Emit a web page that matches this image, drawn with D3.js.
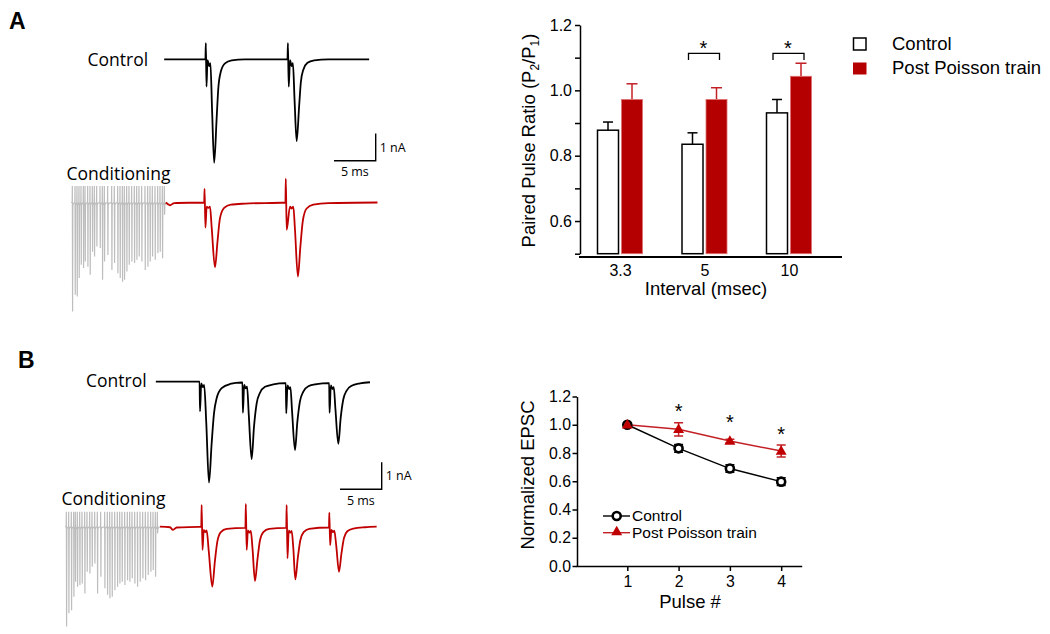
<!DOCTYPE html>
<html><head><meta charset="utf-8">
<script src="https://cdn.jsdelivr.net/npm/d3@7"></script>
<style>body{margin:0;background:#fff}svg{display:block}</style>
</head><body>
<svg id="fig" width="1050" height="634"></svg>
<script>
// ---------------- DATA ----------------
// Panel A bar chart: paired pulse ratio
const intervals = ["3.3", "5", "10"];
const pprControl = [0.878, 0.835, 0.931];
const pprControlErr = [0.025, 0.035, 0.041];
const pprPost = [0.972, 0.972, 1.043];
const pprPostErr = [0.048, 0.036, 0.040];
const pprTicks = [0.5, 0.6, 0.7, 0.8, 0.9, 1.0, 1.1, 1.2];
const pprTickLabels = ["", "0.6", "", "0.8", "", "1.0", "", "1.2"];
const pprSignificant = ["5", "10"];
const seriesNames = ["Control", "Post Poisson train"];

// Panel B line chart: normalized EPSC
const pulses = [1, 2, 3, 4];
const epscControl = [1.0, 0.833, 0.69, 0.597];
const epscControlErr = [0, 0.028, 0.026, 0.027];
const epscPost = [1.0, 0.968, 0.885, 0.814];
const epscPostErr = [0, 0.047, 0.012, 0.042];
const epscTicks = [0, 0.2, 0.4, 0.6, 0.8, 1.0, 1.2];
const epscSignificant = [2, 3, 4];

// Example traces: [time (ms), current (nA)]
const traceAControl = [[11.3,0],[16.25,0],[16.3,0.59],[16.38,-1.0],[16.5,-0.03],[16.7,-0.25],[16.85,-0.14],[17.05,-1.86],[17.3,-3.79],[17.6,-2.15],[17.8,-1.05],[18.1,-0.45],[18.6,-0.15],[19.4,-0.04],[21,0],
  [26.1,0],[26.15,0.59],[26.25,-1.0],[26.4,-0.03],[26.6,-0.25],[26.75,-0.14],[26.95,-1.5],[27.2,-3.0],[27.5,-1.7],[27.7,-0.85],[28.0,-0.38],[28.5,-0.13],[29.3,-0.04],[31,0],[35.9,0]];
const traceAPost = [[11.5,0],[12.0,-0.1],[12.5,-0.02],[16.1,0],[16.15,0.5],[16.25,-0.92],[16.4,-0.15],[16.6,-0.2],[16.8,-0.15],[17.0,-0.9],[17.4,-2.38],[17.7,-1.43],[18.0,-0.57],[18.5,-0.2],[19.3,-0.08],[21,-0.04],
  [25.85,0],[25.9,0.87],[26.0,-1.0],[26.4,-0.15],[26.6,-0.22],[26.8,-0.15],[27.0,-1.0],[27.35,-2.71],[27.65,-1.6],[27.95,-0.65],[28.4,-0.22],[29.2,-0.08],[31,-0.02],[36.9,0]];
// conditioning train spikes: [time (ms), peak current (nA)]
const spikesA = [[0.28,-3.99],[0.6,-3.38],[0.84,-3.44],[1.08,-2.77],[1.32,-2.28],[1.6,-2.4],[1.8,-2.16],[2.12,-2.35],[2.4,-2.65],[2.68,-1.8],[2.92,-1.98],[3.2,-1.61],[3.6,-1.67],[3.88,-2.83],[4.12,-2.16],[4.52,-1.92],[5.0,-2.47],[5.32,-2.22],[5.72,-2.59],[6.0,-2.77],[6.28,-2.9],[6.52,-2.83],[6.8,-2.53],[7.08,-2.28],[7.4,-2.16],[7.72,-2.22],[8.0,-2.1],[8.28,-1.98],[8.6,-2.16],[9.0,-2.47],[9.32,-2.35],[9.6,-2.16],[9.88,-1.98],[10.2,-2.1],[10.52,-1.86],[10.8,-1.8],[11.08,-2.04],[11.32,-0.45]];
const spikeUpA = 0.6;

const traceBControl = [[10.9,0],[16.15,0],[16.2,-1.1],[16.35,-0.06],[16.55,-0.2],[16.7,-0.12],[16.95,-1.5],[17.28,-3.74],[17.6,-2.28],[17.88,-1.17],[18.2,-0.61],[18.8,-0.24],[19.8,-0.085],[21.2,-0.03],
  [21.3,-0.03],[21.35,-1.15],[21.5,-0.12],[21.7,-0.25],[21.85,-0.18],[22.05,-1.2],[22.4,-2.87],[22.68,-1.67],[23.0,-0.8],[23.4,-0.41],[24.0,-0.19],[25.0,-0.1],[26.4,-0.05],
  [26.5,-0.05],[26.55,-1.17],[26.7,-0.14],[26.9,-0.27],[27.05,-0.2],[27.25,-1.1],[27.6,-2.53],[27.88,-1.5],[28.2,-0.72],[28.6,-0.37],[29.2,-0.17],[30.2,-0.09],[31.6,-0.05],
  [31.7,-0.05],[31.75,-1.15],[31.9,-0.14],[32.1,-0.27],[32.25,-0.2],[32.45,-1.0],[32.8,-2.3],[33.08,-1.35],[33.4,-0.65],[33.8,-0.33],[34.4,-0.15],[35.4,-0.06],[36.6,-0.02]];
const traceBPost = [[11.4,0],[12.6,-0.02],[12.96,-0.12],[13.4,-0.03],[16.35,0],[16.4,0.8],[16.5,-0.86],[16.65,-0.12],[16.85,-0.2],[17.0,-0.14],[17.25,-0.9],[17.68,-2.22],[17.98,-1.3],[18.28,-0.55],[18.7,-0.2],[19.4,-0.08],[21.6,-0.04],
  [21.65,-0.04],[21.7,0.84],[21.8,-0.86],[21.95,-0.14],[22.15,-0.22],[22.3,-0.16],[22.5,-0.8],[22.8,-2.01],[23.1,-1.2],[23.4,-0.5],[23.8,-0.2],[24.5,-0.08],[26.5,-0.04],
  [26.55,-0.04],[26.6,0.8],[26.7,-1.17],[26.85,-0.14],[27.05,-0.22],[27.2,-0.16],[27.4,-0.8],[27.64,-1.95],[27.94,-1.15],[28.24,-0.5],[28.64,-0.2],[29.3,-0.08],[31.65,-0.03],
  [31.68,-0.03],[31.72,0.52],[31.82,-0.68],[31.97,-0.12],[32.17,-0.2],[32.32,-0.15],[32.55,-0.7],[32.88,-1.67],[33.18,-0.98],[33.48,-0.42],[33.88,-0.17],[34.6,-0.07],[36,-0.02],[37.4,0]];
const spikesB = [[0.16,-3.7],[0.44,-3.21],[0.76,-3.09],[1.04,-2.59],[1.24,-2.04],[1.48,-2.22],[1.76,-2.16],[2.04,-2.1],[2.36,-2.47],[2.64,-1.67],[2.96,-1.73],[3.24,-1.48],[3.56,-1.36],[3.88,-2.47],[4.28,-1.85],[4.76,-2.28],[5.08,-2.52],[5.36,-2.65],[5.64,-2.59],[5.96,-2.35],[6.28,-2.22],[6.56,-2.1],[6.84,-2.04],[7.16,-2.16],[7.48,-1.98],[7.76,-2.04],[8.04,-1.91],[8.36,-2.1],[8.68,-2.22],[9.0,-2.04],[9.32,-1.91],[9.64,-1.98],[9.96,-1.79],[10.28,-1.67],[10.56,-1.6],[10.84,-1.85],[11.08,-0.25]];
const spikeUpB = 0.55;
const scaleBarTime = 5;   // ms
const scaleBarCurrent = 1; // nA

// ---------------- DRAWING ----------------
const svg = d3.select("#fig");
const SANS = "'Liberation Sans', Arial, Helvetica, sans-serif";
const HUM = "'Open Sans', 'Noto Sans', sans-serif";
const RED = "#b40000", RED_LINE = "#c32026", GRAY = "#bdbdbd";

// panel letters
svg.append("text").attr("x", 9).attr("y", 28.5).text("A")
  .attr("font-family", SANS).attr("font-weight", "bold").attr("font-size", 23);
svg.append("text").attr("x", 18).attr("y", 367.5).text("B")
  .attr("font-family", SANS).attr("font-weight", "bold").attr("font-size", 23);

// ---- traces ----
function drawTraces(cfg) {
  const x = d3.scaleLinear().domain([0, 40]).range([cfg.x0, cfg.x0 + 40 * 8.333]);
  const yC = d3.scaleLinear().domain([0, 1]).range([cfg.baseControl, cfg.baseControl - cfg.pxPerNA]);
  const yP = d3.scaleLinear().domain([0, 1]).range([cfg.basePost, cfg.basePost - cfg.pxPerNA]);
  const g = svg.append("g");
  // conditioning spikes
  const pts = [[cfg.spikes[0][0] - 0.15, 0]];
  cfg.spikes.forEach(([t, d]) => { pts.push([t - 0.02, 0], [t, cfg.spikeUp], [t + 0.03, d], [t + 0.06, -0.1], [t + 0.14, -0.03]); });
  pts.push([cfg.post[0][0], 0]);
  g.append("path").attr("d", d3.line().x(d => x(d[0])).y(d => yP(d[1]))(pts))
    .attr("fill", "none").attr("stroke", GRAY).attr("stroke-width", 1.2);
  const lineC = d3.line().x(d => x(d[0])).y(d => yC(d[1])).curve(d3.curveMonotoneX);
  const lineP = d3.line().x(d => x(d[0])).y(d => yP(d[1])).curve(d3.curveMonotoneX);
  g.append("path").attr("d", lineC(cfg.control)).attr("fill", "none").attr("stroke", "#000").attr("stroke-width", 1.8);
  g.append("path").attr("d", lineP(cfg.post)).attr("fill", "none").attr("stroke", "#c00000").attr("stroke-width", 1.8);
  // labels
  g.append("text").attr("x", cfg.ctlLabel[0]).attr("y", cfg.ctlLabel[1]).text("Control")
    .attr("font-family", HUM).attr("font-size", 17.5);
  g.append("text").attr("x", cfg.condLabel[0]).attr("y", cfg.condLabel[1]).text("Conditioning")
    .attr("font-family", HUM).attr("font-size", 17.5);
  // scale bar
  const [bx, by] = cfg.bar;
  const w = x(scaleBarTime) - x(0), h = yC(0) - yC(scaleBarCurrent);
  g.append("path").attr("d", `M${bx - w},${by}H${bx}V${by - h}`)
    .attr("fill", "none").attr("stroke", "#000").attr("stroke-width", 1.4);
  g.append("text").attr("x", bx + 4).attr("y", by - h / 2 + 4.5).text("1 nA")
    .attr("font-family", HUM).attr("font-size", 12.5);
  g.append("text").attr("x", bx - w / 2).attr("y", by + 15.5).attr("text-anchor", "middle").text("5 ms")
    .attr("font-family", HUM).attr("font-size", 12.5);
}
drawTraces({ x0: 70, baseControl: 59.3, basePost: 202.5, pxPerNA: 27.3, control: traceAControl, post: traceAPost,
  spikes: spikesA, spikeUp: spikeUpA, ctlLabel: [87.5, 65.5], condLabel: [66.5, 180], bar: [375.7, 160.7] });
drawTraces({ x0: 65, baseControl: 381.7, basePost: 526.7, pxPerNA: 27, control: traceBControl, post: traceBPost,
  spikes: spikesB, spikeUp: spikeUpB, ctlLabel: [86, 386.5], condLabel: [61.5, 505], bar: [381.7, 489.3] });

// ---- Panel A bar chart ----
(function () {
  const y = d3.scaleLinear().domain([0.5, 1.2]).range([253.7, 25]);
  const x = d3.scalePoint().domain(intervals).range([620, 789]);
  const g = svg.append("g");
  const yAxis = d3.axisLeft(y).tickValues(pprTicks).tickFormat((d, i) => pprTickLabels[i])
    .tickSize(5).tickSizeOuter(0).tickPadding(3);
  const ya = g.append("g").attr("transform", "translate(580,0)").call(yAxis);
  ya.selectAll("path,line").attr("stroke", "#000").attr("stroke-width", 1.5);
  ya.selectAll("text").attr("font-family", SANS).attr("font-size", 16).attr("fill", "#000");
  const xAxis = d3.axisBottom(x).tickSize(0).tickPadding(8);
  const xa = g.append("g").attr("transform", "translate(0,257)").call(xAxis);
  xa.select(".domain").remove();
  xa.selectAll("text").attr("font-family", SANS).attr("font-size", 16).attr("fill", "#000");
  g.append("line").attr("x1", 579).attr("x2", 842).attr("y1", 257).attr("y2", 257)
    .attr("stroke", "#000").attr("stroke-width", 2);
  const bw = 21;
  intervals.forEach((k, i) => {
    const c = x(k);
    // control
    g.append("line").attr("x1", c - 12).attr("x2", c - 12).attr("y1", y(pprControl[i])).attr("y2", y(pprControl[i] + pprControlErr[i]))
      .attr("stroke", "#000").attr("stroke-width", 1.5);
    g.append("line").attr("x1", c - 17).attr("x2", c - 7).attr("y1", y(pprControl[i] + pprControlErr[i])).attr("y2", y(pprControl[i] + pprControlErr[i]))
      .attr("stroke", "#000").attr("stroke-width", 1.5);
    g.append("rect").attr("x", c - 1.5 - bw).attr("width", bw).attr("y", y(pprControl[i])).attr("height", y(0.5) - y(pprControl[i]))
      .attr("fill", "#fff").attr("stroke", "#000").attr("stroke-width", 1.5);
    // post
    g.append("line").attr("x1", c + 12).attr("x2", c + 12).attr("y1", y(pprPost[i])).attr("y2", y(pprPost[i] + pprPostErr[i]))
      .attr("stroke", RED_LINE).attr("stroke-width", 1.5);
    g.append("line").attr("x1", c + 6.5).attr("x2", c + 17.5).attr("y1", y(pprPost[i] + pprPostErr[i])).attr("y2", y(pprPost[i] + pprPostErr[i]))
      .attr("stroke", RED_LINE).attr("stroke-width", 1.5);
    g.append("rect").attr("x", c + 1.5).attr("width", bw).attr("y", y(pprPost[i])).attr("height", y(0.5) - y(pprPost[i]))
      .attr("fill", RED).attr("stroke", "#e07070").attr("stroke-width", 0.8);
  });
  // significance brackets
  pprSignificant.forEach(k => {
    const c = x(k);
    g.append("path").attr("d", `M${c - 16},${y(1.093)}V${y(1.113)}H${c + 15}V${y(1.093)}`)
      .attr("fill", "none").attr("stroke", "#000").attr("stroke-width", 1.3);
    g.append("text").attr("x", c - 1).attr("y", y(1.113) + 2).attr("text-anchor", "middle").text("*")
      .attr("font-family", SANS).attr("font-size", 20);
  });
  // axis titles
  const yt = g.append("text").attr("transform", "translate(535.3,140.5) rotate(-90)").attr("text-anchor", "middle")
    .attr("font-family", SANS).attr("font-size", 18.5);
  yt.append("tspan").text("Paired Pulse Ratio (P");
  yt.append("tspan").attr("dy", 4).attr("font-size", 12).text("2");
  yt.append("tspan").attr("dy", -4).text("/P");
  yt.append("tspan").attr("dy", 4).attr("font-size", 12).text("1");
  yt.append("tspan").attr("dy", -4).text(")");
  g.append("text").attr("x", 706).attr("y", 294.5).attr("text-anchor", "middle").text("Interval (msec)")
    .attr("font-family", SANS).attr("font-size", 18.5);
  // legend
  const lg = g.append("g");
  lg.append("rect").attr("x", 853.5).attr("y", 38).attr("width", 12.5).attr("height", 12)
    .attr("fill", "#fff").attr("stroke", "#000").attr("stroke-width", 1.5);
  lg.append("rect").attr("x", 853).attr("y", 62.5).attr("width", 13.5).attr("height", 12).attr("fill", RED);
  lg.append("text").attr("x", 892).attr("y", 49.5).text(seriesNames[0]).attr("font-family", SANS).attr("font-size", 18.5);
  lg.append("text").attr("x", 892).attr("y", 73.5).text(seriesNames[1]).attr("font-family", SANS).attr("font-size", 18.5);
})();

// ---- Panel B line chart ----
(function () {
  const x = d3.scaleLinear().domain([0, 4.4]).range([576, 801.7]);
  const y = d3.scaleLinear().domain([0, 1.2]).range([566, 396.5]);
  const g = svg.append("g");
  const ya = g.append("g").attr("transform", "translate(577,0)")
    .call(d3.axisLeft(y).tickValues(epscTicks).tickFormat(d3.format(".1f")).tickSize(4.5).tickSizeOuter(0).tickPadding(1.5));
  const xa = g.append("g").attr("transform", "translate(0,566)")
    .call(d3.axisBottom(x).tickValues(pulses).tickFormat(d3.format("d")).tickSize(5).tickSizeOuter(0).tickPadding(5));
  [ya, xa].forEach(a => {
    a.selectAll("path,line").attr("stroke", "#000").attr("stroke-width", 1.5);
    a.selectAll("text").attr("font-family", SANS).attr("font-size", 15.8).attr("fill", "#000");
  });
  const line = d3.line().x((d, i) => x(pulses[i])).y(d => y(d));
  g.append("path").attr("d", line(epscControl)).attr("fill", "none").attr("stroke", "#000").attr("stroke-width", 1.4);
  g.append("path").attr("d", line(epscPost)).attr("fill", "none").attr("stroke", RED_LINE).attr("stroke-width", 1.4);
  function errBars(vals, errs, color) {
    vals.forEach((v, i) => {
      if (!errs[i]) return;
      const cx = x(pulses[i]);
      g.append("path").attr("d", `M${cx},${y(v - errs[i])}V${y(v + errs[i])}M${cx - 4.5},${y(v + errs[i])}H${cx + 4.5}M${cx - 4.5},${y(v - errs[i])}H${cx + 4.5}`)
        .attr("fill", "none").attr("stroke", color).attr("stroke-width", 1.5);
    });
  }
  errBars(epscControl, epscControlErr, "#000");
  errBars(epscPost, epscPostErr, RED_LINE);
  epscControl.forEach((v, i) => {
    g.append("circle").attr("cx", x(pulses[i])).attr("cy", y(v)).attr("r", 4)
      .attr("fill", "#fff").attr("stroke", "#000").attr("stroke-width", 2.6);
  });
  const tri = d3.symbol().type(d3.symbolTriangle).size(52);
  epscPost.forEach((v, i) => {
    g.append("path").attr("d", tri()).attr("transform", `translate(${x(pulses[i])},${y(v) + 0.5})`).attr("fill", "#c00000");
  });
  // significance stars
  const starY = { 2: 1.119, 3: 1.046, 4: 0.958 };
  epscSignificant.forEach(p => {
    g.append("text").attr("x", x(p)).attr("y", y(starY[p]) + 10.5).attr("text-anchor", "middle").text("*")
      .attr("font-family", SANS).attr("font-size", 20);
  });
  // titles
  g.append("text").attr("transform", "translate(534,475) rotate(-90)").attr("text-anchor", "middle")
    .text("Normalized EPSC").attr("font-family", SANS).attr("font-size", 18.5);
  g.append("text").attr("x", 690).attr("y", 608.3).attr("text-anchor", "middle").text("Pulse #")
    .attr("font-family", SANS).attr("font-size", 18.5);
  // legend
  const lg = g.append("g");
  lg.append("line").attr("x1", 603).attr("x2", 630).attr("y1", 516).attr("y2", 516).attr("stroke", "#000").attr("stroke-width", 1.4);
  lg.append("circle").attr("cx", 616.7).attr("cy", 516).attr("r", 4).attr("fill", "#fff").attr("stroke", "#000").attr("stroke-width", 2.6);
  lg.append("line").attr("x1", 603).attr("x2", 630).attr("y1", 532.7).attr("y2", 532.7).attr("stroke", RED_LINE).attr("stroke-width", 1.4);
  lg.append("path").attr("d", tri()).attr("transform", "translate(616.7,532.2)").attr("fill", "#c00000");
  lg.append("text").attr("x", 632).attr("y", 521.3).text(seriesNames[0]).attr("font-family", SANS).attr("font-size", 15.5);
  lg.append("text").attr("x", 632).attr("y", 538).text(seriesNames[1]).attr("font-family", SANS).attr("font-size", 15.5);
})();
</script>
</body></html>
